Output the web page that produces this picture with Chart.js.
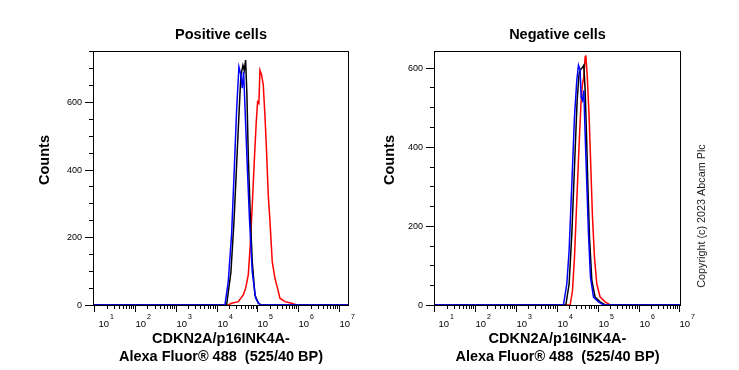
<!DOCTYPE html>
<html>
<head>
<meta charset="utf-8">
<script src="https://cdn.jsdelivr.net/npm/chart.js@4/dist/chart.umd.min.js"></script>
<style>
  html, body { margin: 0; padding: 0; background: #fff; }
  #wrap { position: relative; width: 739px; height: 370px; }
  canvas { position: absolute; top: 0; }
</style>
</head>
<body>
<div id="wrap">
  <canvas id="posChart" width="370" height="370" style="left:0"></canvas>
  <canvas id="negChart" width="369" height="370" style="left:370px"></canvas>
</div>
<script>
// decades on the log x axis (labels 10^1 .. 10^7), counts ticks on y
const decades = [1, 2, 3, 4, 5, 6, 7];
const countTicks = [0, 200, 400, 600];
const xTitle = ['CDKN2A/p16INK4A-', 'Alexa Fluor\u00AE 488  (525/40 BP)'];

// Positive cells - x is log10(intensity), y is counts
const posBlueX = [0.9, 4.203, 4.285, 4.367, 4.432, 4.489, 4.546, 4.595, 4.628, 4.661, 4.693, 4.750, 4.808, 4.873, 4.955, 5.061, 7.3];
const posBlueY = [0, 0, 70, 210, 400, 575, 703, 679, 640, 689, 590, 413, 246, 98, 20, 0, 0];
const posBlackX = [0.9, 4.244, 4.350, 4.424, 4.489, 4.546, 4.595, 4.644, 4.677, 4.710, 4.742, 4.775, 4.824, 4.873, 4.938, 5.020, 5.102, 7.3];
const posBlackY = [0, 0, 98, 246, 413, 561, 679, 708, 693, 723, 620, 443, 265, 128, 30, 5, 0, 0];
const posRedX = [0.9, 4.285, 4.367, 4.530, 4.652, 4.710, 4.775, 4.824, 4.873, 4.922, 4.971, 5.004, 5.036, 5.061, 5.102, 5.143, 5.183, 5.224, 5.265, 5.306, 5.363, 5.429, 5.494, 5.551, 5.674, 5.837, 5.960, 7.3];
const posRedY = [0, 0, 5, 10, 30, 49, 89, 177, 295, 423, 541, 600, 595, 693, 679, 649, 561, 453, 325, 250, 128, 79, 49, 20, 10, 5, 0, 0];

// Negative cells
const negBlueX = [0.9, 4.162, 4.244, 4.301, 4.367, 4.432, 4.489, 4.530, 4.571, 4.595, 4.628, 4.661, 4.693, 4.734, 4.775, 4.824, 4.898, 5.020, 5.143, 7.3];
const negBlueY = [0, 0, 53, 137, 306, 475, 568, 606, 593, 525, 517, 542, 433, 306, 180, 70, 20, 8, 0, 0];
const negBlackX = [0.9, 4.220, 4.301, 4.367, 4.432, 4.497, 4.546, 4.595, 4.628, 4.661, 4.693, 4.726, 4.759, 4.800, 4.857, 4.938, 5.061, 5.184, 7.3];
const negBlackY = [0, 0, 53, 180, 349, 517, 585, 597, 600, 606, 542, 433, 306, 171, 62, 20, 8, 0, 0];
const negRedX = [0.9, 4.326, 4.383, 4.432, 4.489, 4.546, 4.595, 4.628, 4.661, 4.693, 4.710, 4.742, 4.791, 4.832, 4.873, 4.922, 4.979, 5.061, 5.184, 5.306, 7.3];
const negRedY = [0, 0, 36, 120, 264, 407, 517, 559, 576, 627, 631, 584, 475, 349, 222, 120, 53, 20, 8, 0, 0];

const FONT = '"Liberation Sans", Arial, sans-serif';

function pts(xs, ys) {
    return xs.map((x, i) => ({ x: x, y: ys[i] }));
}

function line(label, xs, ys, color) {
    return { label, data: pts(xs, ys), borderColor: color, borderWidth: 1.5, pointRadius: 0, tension: 0, fill: false };
}

// frame, ticks, labels and titles drawn from the chart's own scales
const frameAxes = {
    id: 'frameAxes',
    afterDatasetsDraw(chart, args, o) {
        const { ctx, chartArea: a, scales: { x, y } } = chart;
        ctx.save();
        ctx.strokeStyle = '#000';
        ctx.fillStyle = '#000';
        ctx.lineWidth = 1;
        ctx.strokeRect(a.left + 0.5, a.top + 0.5, a.right - a.left - 1, a.bottom - a.top);

        // y ticks every 50, labelled every 200
        ctx.font = '9px ' + FONT;
        ctx.textAlign = 'right';
        ctx.textBaseline = 'middle';
        for (let v = 0; v <= y.max; v += 50) {
            const py = Math.round(y.getPixelForValue(v)) + 0.5;
            const major = countTicks.includes(v);
            ctx.beginPath();
            ctx.moveTo(a.left - (major ? 8 : 4), py);
            ctx.lineTo(a.left, py);
            ctx.stroke();
            if (major) ctx.fillText(String(v), a.left - 11, py);
        }

        // x ticks: decades plus log minors
        ctx.textAlign = 'left';
        ctx.textBaseline = 'top';
        decades.forEach((d, i) => {
            const px = Math.round(x.getPixelForValue(d)) + 0.5;
            ctx.beginPath();
            ctx.moveTo(px, a.bottom);
            ctx.lineTo(px, a.bottom + 7);
            ctx.stroke();
            for (let k = 2; k <= 9; k++) {
                const v = d + Math.log10(k);
                if (v > x.max) break;
                const mx = Math.round(x.getPixelForValue(v)) + 0.5;
                ctx.beginPath();
                ctx.moveTo(mx, a.bottom);
                ctx.lineTo(mx, a.bottom + 4);
                ctx.stroke();
            }
            const lx = px + (i === 0 ? 4 : 0);
            ctx.font = '9.5px ' + FONT;
            ctx.fillText('10', lx, 320);
            const w = ctx.measureText('10').width;
            ctx.font = '7px ' + FONT;
            ctx.fillText(String(d), lx + w + 1, 314);
        });

        const cx = (a.left + a.right) / 2;
        ctx.font = 'bold 14.5px ' + FONT;
        ctx.textAlign = 'center';
        ctx.textBaseline = 'middle';
        ctx.fillText(o.title, cx, 35);
        xTitle.forEach((t, i) => ctx.fillText(t, cx, 339 + i * 18));

        ctx.save();
        ctx.translate(o.yTitleX, 160);
        ctx.rotate(-Math.PI / 2);
        ctx.fillText('Counts', 0, 0);
        ctx.restore();

        if (o.copyright) {
            ctx.save();
            ctx.translate(o.copyright, 216);
            ctx.rotate(-Math.PI / 2);
            ctx.font = '10.8px ' + FONT;
            ctx.fillStyle = '#222';
            ctx.fillText('Copyright (c) 2023 Abcam Plc', 0, 0);
            ctx.restore();
        }
        ctx.restore();
    }
};

function makeChart(id, datasets, xMin, xMax, yMax, padding, opts) {
    return new Chart(document.getElementById(id), {
        type: 'line',
        data: { datasets },
        plugins: [frameAxes],
        options: {
            responsive: false,
            animation: false,
            layout: { padding },
            plugins: { legend: { display: false }, tooltip: { enabled: false }, frameAxes: opts },
            scales: {
                x: { type: 'linear', min: xMin, max: xMax, display: false },
                y: { type: 'linear', min: 0, max: yMax, display: false }
            }
        }
    });
}

makeChart('posChart', [
    line('Blue', posBlueX, posBlueY, '#0000ff'),
    line('Black', posBlackX, posBlackY, '#000000'),
    line('Red', posRedX, posRedY, '#ff0000')
], 0.968, 7.245, 750, { left: 93, right: 21, top: 51, bottom: 65 },
    { title: 'Positive cells', yTitleX: 45 });

makeChart('negChart', [
    line('Blue', negBlueX, negBlueY, '#0000ff'),
    line('Black', negBlackX, negBlackY, '#000000'),
    line('Red', negRedX, negRedY, '#ff0000')
], 0.993, 7.04, 642, { left: 64, right: 58, top: 51, bottom: 65 },
    { title: 'Negative cells', yTitleX: 20, copyright: 332 });
</script>
</body>
</html>
